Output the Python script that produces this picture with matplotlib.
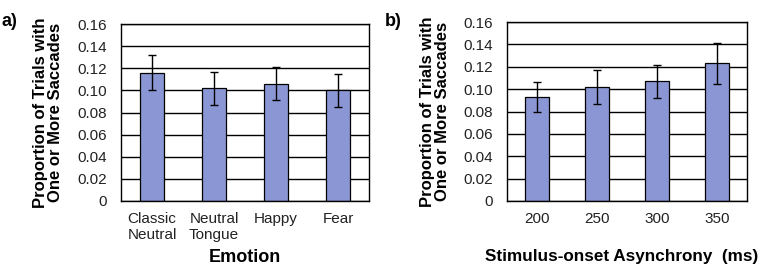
from matplotlib import pyplot as plt
import numpy as np

plt.rcParams['font.family'] = ['Liberation Sans', 'DejaVu Sans']

emotions = ["Classic\nNeutral", "Neutral\nTongue", "Happy", "Fear"]
emotion_vals = [0.116, 0.102, 0.106, 0.100]
emotion_err = [0.016, 0.015, 0.015, 0.015]

soa = ["200", "250", "300", "350"]
soa_vals = [0.093, 0.102, 0.107, 0.123]
soa_err = [0.013, 0.015, 0.015, 0.018]

yticks = [0, 0.02, 0.04, 0.06, 0.08, 0.10, 0.12, 0.14, 0.16]
ytick_labels = ["0", "0.02", "0.04", "0.06", "0.08", "0.10", "0.12", "0.14", "0.16"]

bar_color = "#8b97d4"
ylab = "Proportion of Trials with\nOne or More Saccades"

fig = plt.figure(figsize=(7.67, 2.67), dpi=100)
ax1 = fig.add_axes([121 / 767, 66 / 267, 248 / 767, 177 / 267])
ax2 = fig.add_axes([507 / 767, 66 / 267, 240 / 767, 179 / 267])


def draw(ax, cats, vals, errs, xlabel, ylab_x, xlab_y, xlab_size):
    x = np.arange(len(cats))
    ax.set_axisbelow(True)
    ax.yaxis.grid(True, color="black", lw=1.0)
    ax.bar(x, vals, width=0.39, color=bar_color, edgecolor="black", lw=0.9,
           yerr=errs, error_kw=dict(ecolor="black", elinewidth=1.0, capsize=3, capthick=1.0))
    ax.set_xlim(-0.5, len(cats) - 0.5)
    ax.set_ylim(0, 0.16)
    ax.set_yticks(yticks)
    ax.set_yticklabels(ytick_labels)
    ax.set_xticks(x)
    ax.set_xticklabels(cats, linespacing=1.15)
    ax.tick_params(axis="y", length=0, labelsize=11, colors="#222222", pad=10)
    ax.tick_params(axis="x", length=0, labelsize=11, colors="#222222", pad=8)
    for s in ax.spines.values():
        s.set_color("black")
        s.set_linewidth(1.0)
    ax.set_ylabel(ylab, fontsize=12, fontweight="bold", linespacing=1.0)
    ax.yaxis.set_label_coords(ylab_x, 0.5)
    ax.set_xlabel(xlabel, fontsize=xlab_size, fontweight="bold")
    ax.xaxis.set_label_coords(0.5, xlab_y)
    ax.xaxis.label.set_va("center")


draw(ax1, emotions, emotion_vals, emotion_err, "Emotion",
     (63 - 121) / 248, -56 / 177, 13)
draw(ax2, soa, soa_vals, soa_err, "Stimulus-onset Asynchrony  (ms)",
     (450 - 507) / 240, -55 / 179, 12.3)
ax2.xaxis.label.set_x((622 - 507) / 240)

fig.text(1 / 767, 1 - 22 / 267, "a)", fontsize=13, fontweight="bold", va="center")
fig.text(385 / 767, 1 - 22 / 267, "b)", fontsize=13, fontweight="bold", va="center")

fig.savefig("out.png", dpi=100)
